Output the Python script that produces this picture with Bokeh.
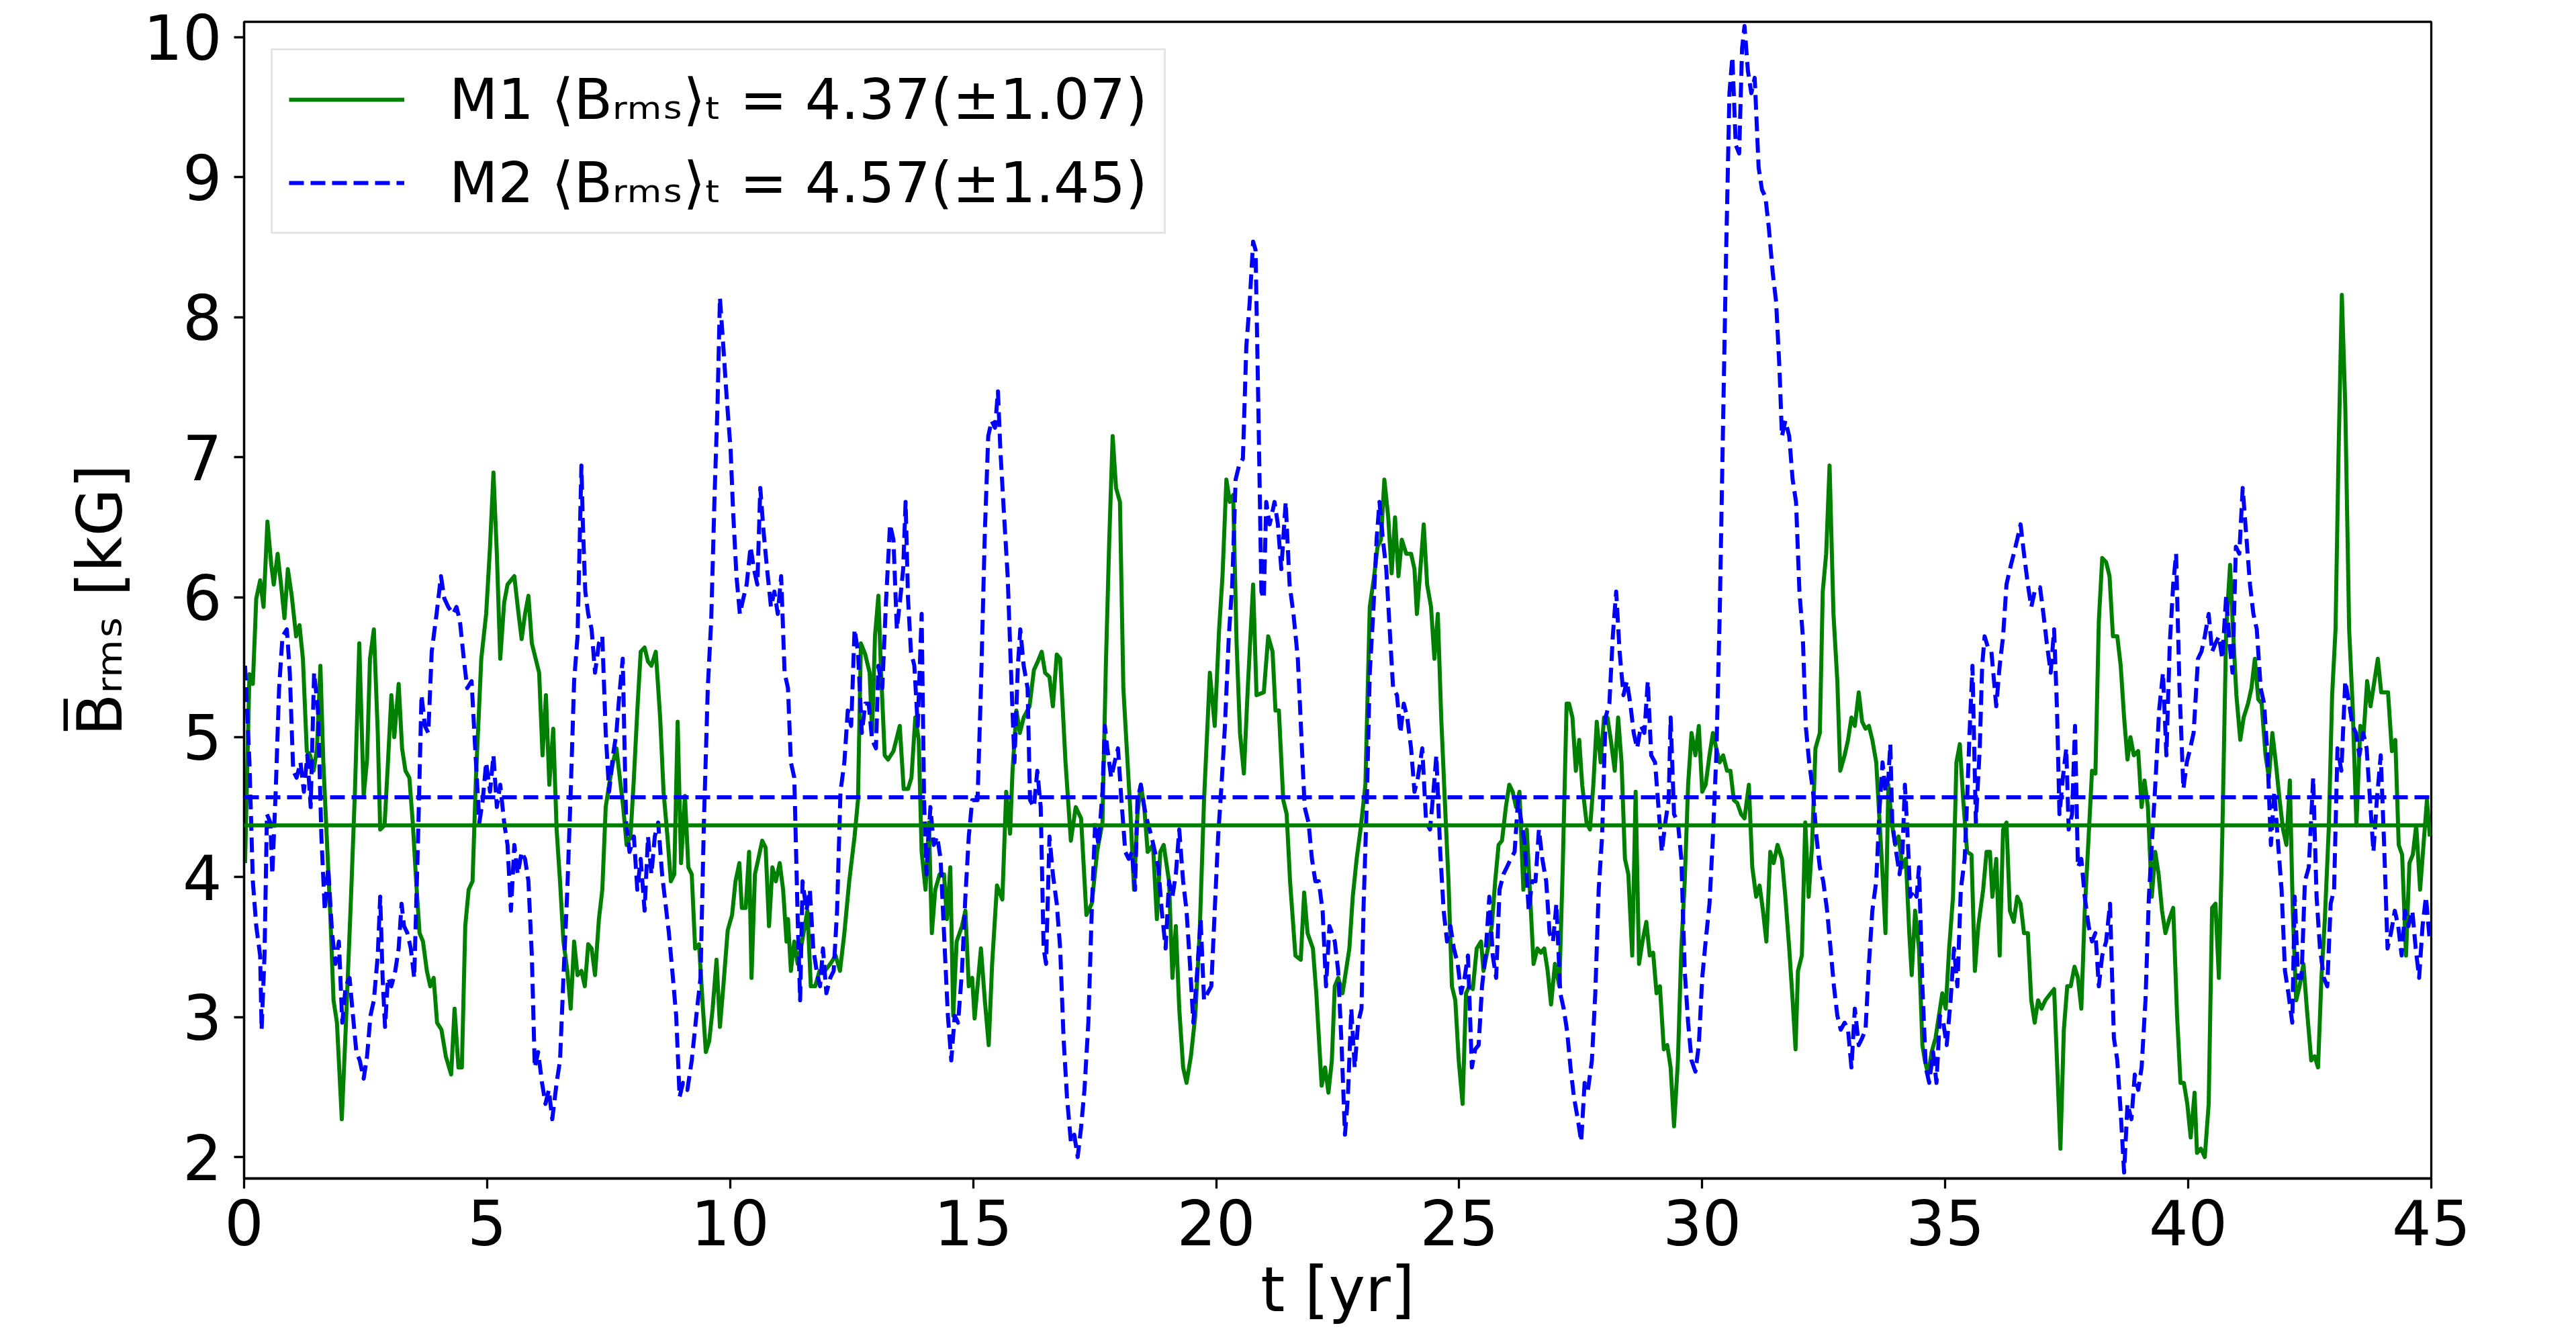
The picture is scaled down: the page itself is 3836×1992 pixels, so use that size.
from bokeh.plotting import figure
from bokeh.models import Range1d, FixedTicker, Span, Legend, LegendItem
from bokeh.embed import file_html
from bokeh.resources import INLINE

# ---------------- data ----------------
X_TICKS = [0, 5, 10, 15, 20, 25, 30, 35, 40, 45]
Y_TICKS = [2, 3, 4, 5, 6, 7, 8, 9, 10]

M1_MEAN, M1_STD = 4.37, 1.07
M2_MEAN, M2_STD = 4.57, 1.45

# model M1 (green, solid): (t [yr], B_rms [kG])
M1_PART1 = [
    (0.02, 4.10), (0.11, 5.45), (0.18, 5.38), (0.25, 5.99), (0.33, 6.12), (0.40, 5.93), (0.48, 6.54),
    (0.56, 6.23), (0.61, 6.09), (0.69, 6.31), (0.76, 6.09), (0.83, 5.85), (0.90, 6.20), (0.98, 6.01),
    (1.07, 5.72), (1.14, 5.80), (1.21, 5.56), (1.29, 4.90), (1.36, 4.87), (1.43, 4.76), (1.50, 4.92),
    (1.57, 5.51), (1.63, 4.82), (1.70, 4.29), (1.77, 3.76), (1.84, 3.12), (1.91, 2.96), (2.01, 2.27),
    (2.09, 2.91), (2.20, 3.86), (2.28, 4.61), (2.37, 5.67), (2.46, 4.58), (2.53, 4.84), (2.59, 5.56),
    (2.67, 5.77), (2.75, 5.03), (2.80, 4.34), (2.89, 4.37), (2.96, 4.82), (3.03, 5.30), (3.09, 5.00),
    (3.18, 5.38), (3.25, 4.92), (3.32, 4.76), (3.40, 4.71), (3.47, 4.39), (3.54, 3.97), (3.61, 3.60),
    (3.68, 3.54), (3.76, 3.33), (3.83, 3.22), (3.90, 3.28), (3.97, 2.96), (4.06, 2.91), (4.15, 2.72),
    (4.26, 2.59), (4.33, 3.06), (4.41, 2.64), (4.48, 2.64), (4.55, 3.65), (4.62, 3.91), (4.70, 3.97),
    (4.77, 4.71), (4.88, 5.56), (4.98, 5.88), (5.06, 6.36), (5.13, 6.89), (5.20, 6.31), (5.27, 5.56),
    (5.35, 5.96), (5.42, 6.09), (5.56, 6.15), (5.63, 5.93), (5.71, 5.70), (5.78, 5.88), (5.85, 6.01),
    (5.92, 5.67), (6.07, 5.46), (6.14, 4.87), (6.21, 5.30), (6.28, 4.66), (6.36, 5.06), (6.43, 4.34),
    (6.50, 3.97), (6.57, 3.54), (6.65, 3.33), (6.72, 3.06), (6.79, 3.54), (6.86, 3.30), (6.94, 3.33),
    (7.01, 3.22), (7.08, 3.52), (7.15, 3.49), (7.22, 3.30), (7.30, 3.70), (7.37, 3.91), (7.44, 4.50),
    (7.51, 4.66), (7.59, 4.82), (7.66, 4.92), (7.73, 4.71), (7.80, 4.50), (7.87, 4.23), (7.95, 4.29),
    (8.02, 4.71), (8.09, 5.19), (8.16, 5.61), (8.24, 5.64), (8.31, 5.54), (8.38, 5.51), (8.47, 5.61),
    (8.56, 5.14), (8.63, 4.61), (8.71, 4.29), (8.78, 3.97), (8.85, 4.02), (8.92, 5.11), (8.99, 4.10),
    (9.07, 4.58), (9.14, 4.07), (9.21, 4.02), (9.28, 3.49), (9.36, 3.52), (9.43, 3.12), (9.50, 2.75),
    (9.57, 2.83), (9.64, 3.06), (9.72, 3.41), (9.79, 2.93), (9.86, 3.22), (9.95, 3.62), (10.04, 3.73),
    (10.11, 3.97), (10.19, 4.10), (10.24, 3.78), (10.32, 3.78), (10.39, 4.18), (10.44, 3.28), (10.51, 4.02),
    (10.58, 4.13), (10.66, 4.26), (10.73, 4.21), (10.80, 3.65), (10.87, 4.07), (10.94, 3.97), (11.02, 4.10),
    (11.09, 3.91), (11.16, 3.54),
]
M1_PART2 = [
    (11.19, 3.70), (11.25, 3.33), (11.32, 3.54), (11.39, 3.38), (11.48, 3.54), (11.59, 3.76), (11.66, 3.22),
    (11.75, 3.22), (11.84, 3.33), (11.95, 3.33), (12.06, 3.38), (12.17, 3.44), (12.26, 3.33), (12.35, 3.60),
    (12.45, 3.97), (12.56, 4.29), (12.63, 4.55), (12.69, 5.67), (12.78, 5.59), (12.87, 5.46), (12.92, 5.03),
    (12.98, 5.72), (13.05, 6.01), (13.10, 5.51), (13.18, 4.87), (13.25, 4.84), (13.36, 4.90), (13.49, 5.08),
    (13.57, 4.63), (13.66, 4.63), (13.73, 4.71), (13.81, 5.14), (13.88, 4.98), (13.94, 4.18), (14.02, 3.91),
    (14.09, 4.39), (14.15, 3.60), (14.22, 3.91), (14.31, 4.02), (14.40, 4.02), (14.46, 3.70), (14.53, 4.07),
    (14.59, 3.01), (14.66, 3.54), (14.77, 3.65), (14.84, 3.76), (14.91, 3.22), (14.98, 3.28), (15.03, 2.99),
    (15.16, 3.49), (15.24, 3.12), (15.32, 2.80), (15.39, 3.38), (15.49, 3.94), (15.60, 3.84), (15.68, 4.61),
    (15.76, 4.31), (15.81, 4.76), (15.89, 5.19), (15.96, 5.03), (16.04, 5.14), (16.16, 5.22), (16.25, 5.48),
    (16.33, 5.54), (16.41, 5.61), (16.48, 5.46), (16.57, 5.43), (16.64, 5.22), (16.72, 5.59), (16.79, 5.56),
    (16.90, 4.82), (17.01, 4.26), (17.11, 4.50), (17.22, 4.42), (17.33, 3.73), (17.44, 3.81), (17.55, 4.18),
    (17.66, 4.39), (17.73, 5.51), (17.80, 6.41), (17.87, 7.15), (17.94, 6.78), (18.02, 6.68), (18.09, 5.35),
    (18.16, 4.92), (18.23, 4.50), (18.31, 3.91), (18.38, 4.45), (18.45, 4.66), (18.52, 4.50), (18.59, 4.18),
    (18.70, 4.23), (18.78, 3.70), (18.85, 4.18), (18.92, 4.23), (19.03, 3.97), (19.10, 3.28), (19.17, 3.65),
    (19.24, 3.06), (19.32, 2.64), (19.39, 2.53), (19.48, 2.72), (19.57, 3.01), (19.66, 3.60), (19.75, 4.55),
    (19.87, 5.46), (19.97, 5.08), (20.06, 5.77), (20.13, 6.15), (20.21, 6.84), (20.28, 6.68), (20.35, 6.73),
    (20.42, 5.67), (20.49, 5.03), (20.57, 4.74), (20.65, 5.35), (20.76, 6.09), (20.83, 5.30), (20.98, 5.32),
    (21.07, 5.72), (21.16, 5.61), (21.22, 5.19), (21.29, 5.19), (21.38, 4.55), (21.45, 4.45), (21.52, 3.97),
    (21.63, 3.44), (21.74, 3.41), (21.81, 3.89), (21.88, 3.60), (21.99, 3.49), (22.06, 3.17), (22.17, 2.51),
    (22.24, 2.64), (22.31, 2.46),
]
M1_PART3 = [
    (22.38, 2.69), (22.44, 3.22), (22.51, 3.28), (22.60, 3.17), (22.67, 3.33), (22.74, 3.49), (22.81, 3.86),
    (22.89, 4.13), (22.97, 4.34), (23.07, 4.66), (23.16, 5.93), (23.25, 6.15), (23.32, 6.36), (23.39, 6.41),
    (23.46, 6.84), (23.54, 6.57), (23.61, 6.17), (23.68, 6.57), (23.75, 6.15), (23.82, 6.41), (23.91, 6.31),
    (24.01, 6.31), (24.08, 6.20), (24.13, 5.88), (24.19, 6.15), (24.27, 6.52), (24.34, 6.09), (24.42, 5.93),
    (24.49, 5.56), (24.56, 5.88), (24.63, 5.14), (24.71, 4.50), (24.78, 3.97), (24.85, 3.22), (24.92, 3.12),
    (24.99, 2.69), (25.07, 2.38), (25.14, 3.17), (25.21, 3.22), (25.28, 3.20), (25.36, 3.49), (25.45, 3.54),
    (25.50, 3.33), (25.59, 3.49), (25.67, 3.65), (25.74, 3.97), (25.81, 4.23), (25.88, 4.26), (25.96, 4.50),
    (26.03, 4.66), (26.10, 4.61), (26.17, 4.50), (26.24, 4.61), (26.32, 3.91), (26.39, 4.34), (26.46, 3.86),
    (26.53, 3.38), (26.61, 3.49), (26.68, 3.46), (26.75, 3.49), (26.82, 3.33), (26.89, 3.09), (26.97, 3.38),
    (27.06, 3.22), (27.13, 4.07), (27.21, 5.24), (27.26, 5.24), (27.33, 5.14), (27.40, 4.76), (27.47, 4.98),
    (27.53, 4.66), (27.62, 4.39), (27.69, 4.34), (27.76, 4.66), (27.83, 5.11), (27.91, 4.82), (27.98, 5.14),
    (28.05, 5.14), (28.12, 4.98), (28.20, 4.76), (28.27, 5.14), (28.34, 4.82), (28.41, 4.13), (28.48, 4.02),
    (28.56, 3.44), (28.63, 4.61), (28.70, 3.38), (28.77, 3.54), (28.85, 3.68), (28.92, 3.44), (28.99, 3.46),
    (29.06, 3.17), (29.13, 3.22), (29.21, 2.77), (29.28, 2.80), (29.35, 2.64), (29.42, 2.22), (29.50, 2.69),
    (29.57, 3.49), (29.64, 3.97), (29.71, 4.66), (29.78, 5.03), (29.86, 4.87), (29.93, 5.08), (30.00, 4.61),
    (30.07, 4.66), (30.15, 4.87), (30.22, 5.03), (30.29, 4.92), (30.36, 4.82), (30.43, 4.87), (30.51, 4.76),
    (30.58, 4.76), (30.65, 4.55), (30.72, 4.53), (30.80, 4.45), (30.87, 4.42), (30.96, 4.66), (31.03, 4.07),
    (31.11, 3.86), (31.18, 3.94), (31.25, 3.76), (31.32, 3.54), (31.40, 4.18), (31.47, 4.10), (31.55, 4.23),
    (31.64, 4.13), (31.71, 3.86), (31.79, 3.49), (31.86, 3.12), (31.92, 2.77), (31.97, 3.33), (32.05, 3.44),
    (32.12, 4.39), (32.19, 3.86), (32.26, 4.23), (32.33, 4.92), (32.42, 5.03), (32.48, 6.04), (32.55, 6.31),
    (32.62, 6.94), (32.70, 5.88), (32.78, 5.40), (32.84, 4.76), (32.93, 4.87), (33.00, 4.98), (33.07, 5.14),
    (33.14, 5.08), (33.22, 5.32), (33.29, 5.11), (33.36, 5.06), (33.43, 5.08), (33.50, 4.98), (33.58, 4.82),
    (33.65, 4.39), (33.71, 4.02),
]
M1_PART4 = [
    (33.77, 3.60), (33.83, 4.66), (33.90, 4.39), (33.97, 4.23), (34.04, 4.29), (34.12, 4.07), (34.19, 4.13),
    (34.26, 3.60), (34.31, 3.30), (34.38, 3.76), (34.46, 3.49), (34.53, 2.80), (34.58, 2.69), (34.65, 2.59),
    (34.72, 2.75), (34.80, 2.85), (34.87, 3.01), (34.94, 3.17), (35.01, 3.06), (35.08, 3.49), (35.16, 3.86),
    (35.23, 4.82), (35.30, 4.95), (35.37, 4.55), (35.45, 4.18), (35.54, 4.16), (35.61, 3.33), (35.68, 3.65),
    (35.78, 3.91), (35.85, 4.18), (35.92, 4.18), (35.97, 3.86), (36.05, 4.13), (36.12, 3.44), (36.19, 4.34),
    (36.26, 4.39), (36.33, 3.76), (36.41, 3.68), (36.48, 3.86), (36.55, 3.81), (36.62, 3.60), (36.70, 3.60),
    (36.77, 3.12), (36.84, 2.96), (36.91, 3.12), (36.98, 3.06), (37.06, 3.12), (37.17, 3.17), (37.24, 3.20),
    (37.31, 2.59), (37.37, 2.06), (37.44, 2.91), (37.51, 3.22), (37.58, 3.22), (37.66, 3.36), (37.73, 3.28),
    (37.80, 3.06), (37.87, 3.76), (37.95, 4.29), (38.02, 4.76), (38.09, 4.74), (38.16, 5.83), (38.23, 6.28),
    (38.31, 6.25), (38.38, 6.15), (38.45, 5.72), (38.54, 5.72), (38.61, 5.51), (38.68, 5.14), (38.75, 4.84),
    (38.81, 5.00), (38.88, 4.87), (38.97, 4.90), (39.04, 4.50), (39.10, 4.69), (39.17, 4.50), (39.25, 3.86),
    (39.32, 4.18), (39.39, 4.02), (39.46, 3.76), (39.53, 3.60), (39.61, 3.70), (39.69, 3.78), (39.77, 3.01),
    (39.84, 2.53), (39.91, 2.53), (39.98, 2.38), (40.05, 2.14), (40.13, 2.46), (40.18, 2.03), (40.26, 2.06),
    (40.34, 2.00), (40.42, 2.38), (40.49, 3.78), (40.56, 3.81), (40.63, 3.28), (40.70, 4.29), (40.78, 5.77),
    (40.86, 6.23), (40.92, 5.77), (40.99, 5.30), (41.07, 4.98), (41.14, 5.14), (41.23, 5.24), (41.30, 5.35),
    (41.37, 5.56), (41.44, 5.27), (41.51, 5.24), (41.59, 4.87), (41.66, 4.71), (41.73, 5.03), (41.80, 4.82),
    (41.88, 4.55), (41.95, 4.34), (42.02, 4.23), (42.09, 4.69), (42.15, 3.76), (42.22, 3.12), (42.29, 3.22),
    (42.37, 3.38), (42.44, 3.06), (42.53, 2.69), (42.60, 2.72), (42.67, 2.64), (42.74, 3.28), (42.81, 3.70),
    (42.89, 4.34), (42.96, 5.30), (43.03, 5.77), (43.09, 6.99), (43.16, 8.16), (43.23, 7.37), (43.31, 5.77),
    (43.38, 5.24), (43.46, 4.37), (43.54, 5.08), (43.61, 5.03), (43.68, 5.40), (43.75, 5.22), (43.83, 5.40),
    (43.90, 5.56), (43.97, 5.32), (44.04, 5.32), (44.11, 5.32), (44.19, 4.90), (44.26, 4.98), (44.33, 4.23),
    (44.40, 4.16), (44.48, 3.44), (44.55, 4.10), (44.62, 4.16), (44.69, 4.37), (44.77, 3.91), (44.84, 4.23),
    (44.91, 4.55), (44.97, 4.29),
]

# model M2 (blue, dashed): (t [yr], B_rms [kG])
M2_PART1 = [
    (0.02, 5.51), (0.11, 4.82), (0.18, 3.97), (0.25, 3.65), (0.33, 3.44), (0.36, 2.91), (0.42, 3.44),
    (0.47, 4.45), (0.54, 4.39), (0.58, 4.02), (0.65, 4.61), (0.72, 5.35), (0.79, 5.72), (0.88, 5.77),
    (0.94, 5.46), (1.01, 4.76), (1.08, 4.71), (1.16, 4.82), (1.23, 4.61), (1.30, 4.87), (1.37, 4.50),
    (1.44, 5.46), (1.52, 5.19), (1.59, 4.29), (1.66, 3.76), (1.73, 4.07), (1.81, 3.60), (1.88, 3.38),
    (1.95, 3.54), (2.02, 2.96), (2.09, 3.22), (2.17, 3.28), (2.24, 3.01), (2.31, 2.75), (2.38, 2.69),
    (2.46, 2.56), (2.53, 2.72), (2.60, 3.01), (2.67, 3.12), (2.75, 3.44), (2.80, 3.86), (2.85, 3.28),
    (2.90, 2.93), (2.96, 3.28), (3.03, 3.22), (3.11, 3.33), (3.18, 3.49), (3.24, 3.81), (3.29, 3.65),
    (3.36, 3.60), (3.43, 3.49), (3.50, 3.28), (3.58, 4.29), (3.65, 5.30), (3.72, 5.08), (3.79, 5.03),
    (3.86, 5.61), (3.96, 5.88), (4.05, 6.15), (4.12, 5.99), (4.20, 5.93), (4.30, 5.88), (4.37, 5.93),
    (4.44, 5.83), (4.52, 5.56), (4.59, 5.35), (4.68, 5.40), (4.77, 4.82), (4.84, 4.39), (4.91, 4.55),
    (4.98, 4.82), (5.06, 4.61), (5.13, 4.87), (5.20, 4.50), (5.27, 4.66), (5.35, 4.39), (5.42, 4.23),
    (5.49, 3.76), (5.56, 4.23), (5.63, 4.02), (5.71, 4.18), (5.78, 4.13), (5.85, 3.97), (5.92, 3.44),
    (5.98, 2.64), (6.05, 2.75), (6.13, 2.53), (6.20, 2.38), (6.27, 2.48), (6.34, 2.27), (6.43, 2.53),
    (6.50, 2.69), (6.57, 3.28), (6.65, 3.91), (6.72, 4.61), (6.79, 5.40), (6.86, 5.72), (6.94, 6.94),
    (6.97, 6.52), (7.02, 6.04), (7.08, 5.88), (7.15, 5.77), (7.22, 5.46), (7.30, 5.67), (7.37, 5.72),
    (7.44, 5.03), (7.51, 4.61), (7.59, 4.87), (7.66, 5.03), (7.72, 5.30), (7.79, 5.56), (7.86, 4.39),
    (7.93, 4.18), (8.02, 4.29), (8.09, 3.91), (8.16, 4.13), (8.24, 3.76), (8.31, 4.29), (8.38, 4.02),
    (8.45, 4.29), (8.52, 4.39), (8.60, 4.02), (8.67, 3.81), (8.74, 3.60), (8.81, 3.33), (8.89, 3.01),
    (8.96, 2.43), (9.03, 2.53), (9.12, 2.48), (9.21, 2.69), (9.32, 3.06), (9.39, 3.28), (9.46, 4.39),
    (9.54, 5.35), (9.61, 5.83), (9.68, 6.73), (9.74, 7.37), (9.79, 8.14), (9.86, 7.79), (9.93, 7.42),
    (10.01, 7.05), (10.06, 6.62), (10.13, 6.15), (10.20, 5.88), (10.27, 5.99), (10.34, 6.09), (10.42, 6.36),
    (10.49, 6.20), (10.56, 6.09), (10.62, 6.78), (10.69, 6.46), (10.76, 6.20), (10.84, 5.93), (10.91, 6.04),
    (10.98, 5.88), (11.05, 6.15), (11.12, 5.46),
]
M2_PART2 = [
    (11.19, 5.35), (11.25, 4.82), (11.32, 4.71), (11.39, 3.70), (11.44, 3.12), (11.49, 3.97), (11.57, 3.76),
    (11.64, 3.91), (11.71, 3.49), (11.78, 3.33), (11.85, 3.22), (11.91, 3.49), (11.98, 3.17), (12.06, 3.28),
    (12.13, 3.33), (12.20, 3.76), (12.27, 4.61), (12.35, 4.82), (12.42, 5.19), (12.49, 5.08), (12.56, 5.77),
    (12.63, 5.61), (12.71, 5.03), (12.78, 5.24), (12.85, 5.24), (12.92, 4.98), (13.00, 4.92), (13.05, 5.51),
    (13.13, 5.35), (13.21, 5.99), (13.29, 6.52), (13.36, 6.41), (13.43, 5.77), (13.50, 5.99), (13.56, 6.20),
    (13.61, 6.68), (13.66, 5.99), (13.72, 5.61), (13.79, 5.51), (13.86, 5.08), (13.94, 5.88), (13.99, 4.55),
    (14.04, 4.02), (14.12, 4.50), (14.19, 4.23), (14.26, 4.29), (14.33, 4.13), (14.40, 3.60), (14.48, 3.01),
    (14.55, 2.69), (14.62, 3.01), (14.69, 2.96), (14.77, 3.33), (14.84, 3.86), (14.91, 4.29), (14.98, 4.55),
    (15.09, 4.55), (15.16, 5.35), (15.24, 6.46), (15.31, 7.15), (15.38, 7.26), (15.45, 7.21), (15.51, 7.47),
    (15.56, 7.05), (15.63, 6.62), (15.71, 6.15), (15.78, 5.46), (15.85, 4.82), (15.92, 5.51), (15.97, 5.77),
    (16.04, 5.51), (16.12, 5.35), (16.17, 4.55), (16.25, 4.50), (16.32, 4.76), (16.39, 4.50), (16.45, 3.49),
    (16.50, 3.38), (16.57, 4.29), (16.64, 4.02), (16.72, 3.81), (16.79, 3.49), (16.86, 2.85), (16.93, 2.43),
    (17.01, 2.11), (17.08, 2.16), (17.15, 2.00), (17.22, 2.21), (17.29, 2.48), (17.37, 2.96), (17.44, 3.76),
    (17.51, 4.39), (17.58, 4.23), (17.66, 4.61), (17.71, 5.08), (17.76, 4.92), (17.84, 4.71), (17.91, 4.82),
    (17.98, 4.92), (18.05, 4.55), (18.13, 4.18), (18.20, 4.13), (18.27, 4.18), (18.33, 3.91), (18.38, 4.55),
    (18.45, 4.66), (18.52, 4.50), (18.59, 4.39), (18.67, 4.29), (18.74, 4.18), (18.81, 4.07), (18.88, 3.76),
    (18.96, 3.49), (19.03, 3.97), (19.10, 3.86), (19.17, 4.02), (19.24, 4.34), (19.32, 3.97), (19.39, 3.76),
    (19.46, 3.38), (19.53, 2.96), (19.61, 3.33), (19.68, 3.70), (19.75, 3.12), (19.82, 3.17), (19.90, 3.22),
    (19.97, 3.76), (20.04, 4.29), (20.11, 4.66), (20.18, 5.08), (20.26, 5.72), (20.33, 6.09), (20.40, 6.84),
    (20.47, 6.94), (20.55, 6.99), (20.62, 7.79), (20.69, 8.11), (20.76, 8.54), (20.81, 8.48), (20.87, 7.31),
    (20.93, 6.04), (20.98, 5.99), (21.03, 6.68), (21.10, 6.52), (21.20, 6.68), (21.27, 6.52), (21.34, 6.20),
    (21.43, 6.68), (21.51, 6.09), (21.59, 5.88), (21.68, 5.56), (21.75, 5.03), (21.82, 4.50), (21.90, 4.39),
    (21.97, 4.13), (22.04, 3.97), (22.11, 3.97), (22.19, 3.76), (22.26, 3.22), (22.33, 3.65),
]
M2_PART3 = [
    (22.38, 3.60), (22.44, 3.54), (22.51, 3.33), (22.58, 2.80), (22.65, 2.16), (22.71, 2.43), (22.78, 3.06),
    (22.85, 2.64), (22.92, 2.96), (22.99, 3.06), (23.03, 3.76), (23.10, 4.55), (23.16, 5.46), (23.23, 5.88),
    (23.30, 6.41), (23.36, 6.68), (23.43, 6.41), (23.50, 6.20), (23.57, 5.77), (23.64, 5.35), (23.72, 5.30),
    (23.79, 5.03), (23.86, 5.24), (23.93, 5.14), (24.01, 4.92), (24.08, 4.61), (24.15, 4.71), (24.24, 4.92),
    (24.32, 4.39), (24.40, 4.34), (24.47, 4.61), (24.53, 4.87), (24.61, 4.18), (24.68, 3.76), (24.75, 3.54),
    (24.82, 3.65), (24.89, 3.49), (24.97, 3.38), (25.04, 3.17), (25.11, 3.28), (25.18, 3.44), (25.26, 2.64),
    (25.33, 2.77), (25.40, 2.80), (25.47, 3.22), (25.54, 3.44), (25.62, 3.86), (25.69, 3.44), (25.76, 3.28),
    (25.83, 3.91), (25.91, 4.02), (25.98, 4.07), (26.06, 4.13), (26.14, 4.18), (26.21, 4.55), (26.28, 4.39),
    (26.35, 4.23), (26.43, 3.76), (26.50, 3.97), (26.57, 3.97), (26.64, 4.34), (26.71, 4.13), (26.79, 3.97),
    (26.86, 3.60), (26.93, 3.54), (27.00, 3.81), (27.08, 3.17), (27.15, 3.06), (27.22, 2.90), (27.29, 2.64),
    (27.36, 2.43), (27.44, 2.27), (27.51, 2.11), (27.58, 2.53), (27.65, 2.48), (27.73, 2.69), (27.80, 3.17),
    (27.87, 3.91), (27.94, 4.29), (28.01, 5.14), (28.09, 5.24), (28.16, 5.72), (28.23, 6.04), (28.30, 5.61),
    (28.38, 5.30), (28.45, 5.40), (28.52, 5.24), (28.59, 5.03), (28.66, 4.92), (28.74, 5.08), (28.81, 5.03),
    (28.88, 5.40), (28.95, 4.87), (29.03, 4.82), (29.10, 4.50), (29.17, 4.18), (29.24, 4.39), (29.31, 4.55),
    (29.35, 5.14), (29.42, 4.45), (29.50, 4.39), (29.57, 4.13), (29.64, 3.33), (29.71, 2.96), (29.78, 2.69),
    (29.86, 2.61), (29.93, 2.80), (30.00, 3.28), (30.07, 3.54), (30.15, 3.81), (30.22, 4.29), (30.29, 4.87),
    (30.36, 5.88), (30.43, 7.26), (30.49, 8.43), (30.56, 9.60), (30.62, 9.86), (30.69, 9.23), (30.76, 9.17),
    (30.82, 9.92), (30.87, 10.08), (30.94, 9.76), (31.01, 9.60), (31.08, 9.71), (31.16, 9.07), (31.23, 8.91),
    (31.30, 8.86), (31.37, 8.64), (31.45, 8.32), (31.52, 8.11), (31.59, 7.63), (31.64, 7.15), (31.71, 7.26),
    (31.79, 7.15), (31.86, 6.84), (31.93, 6.68), (32.00, 6.04), (32.07, 5.72), (32.13, 5.08), (32.20, 4.82),
    (32.28, 4.61), (32.35, 4.29), (32.42, 4.07), (32.49, 3.97), (32.57, 3.76), (32.64, 3.49), (32.71, 3.22),
    (32.78, 3.01), (32.85, 2.91), (32.93, 2.96), (33.00, 2.91), (33.07, 2.64), (33.14, 3.06), (33.22, 2.80),
    (33.29, 2.85), (33.36, 2.91), (33.43, 3.38), (33.50, 3.76), (33.58, 3.97), (33.65, 4.50), (33.71, 4.82),
]
M2_PART4 = [
    (33.77, 4.61), (33.83, 4.71), (33.87, 4.95), (33.91, 4.39), (33.99, 4.18), (34.06, 4.02), (34.12, 4.18),
    (34.17, 4.66), (34.22, 4.34), (34.28, 3.86), (34.35, 3.91), (34.41, 3.86), (34.46, 4.07), (34.53, 3.22),
    (34.60, 2.64), (34.67, 2.53), (34.75, 2.75), (34.82, 2.53), (34.89, 3.01), (34.96, 2.96), (35.03, 2.80),
    (35.11, 3.12), (35.18, 3.49), (35.25, 3.22), (35.32, 3.91), (35.40, 4.13), (35.45, 4.55), (35.50, 5.03),
    (35.56, 5.51), (35.63, 4.39), (35.71, 4.92), (35.76, 5.51), (35.81, 5.72), (35.88, 5.64), (35.95, 5.61),
    (36.05, 5.22), (36.12, 5.51), (36.19, 5.72), (36.26, 6.09), (36.33, 6.20), (36.41, 6.31), (36.48, 6.41),
    (36.55, 6.52), (36.62, 6.31), (36.70, 6.09), (36.77, 5.93), (36.84, 6.04), (36.95, 6.07), (37.02, 5.88),
    (37.09, 5.67), (37.17, 5.46), (37.24, 5.77), (37.30, 5.19), (37.35, 4.45), (37.42, 4.71), (37.49, 4.92),
    (37.54, 4.34), (37.61, 4.45), (37.67, 5.08), (37.73, 4.07), (37.80, 4.13), (37.87, 3.86), (37.95, 3.65),
    (38.02, 3.54), (38.09, 3.60), (38.16, 3.22), (38.23, 3.44), (38.31, 3.54), (38.39, 3.81), (38.47, 2.85),
    (38.54, 2.69), (38.61, 2.32), (38.68, 1.89), (38.75, 2.38), (38.83, 2.27), (38.90, 2.59), (38.97, 2.48),
    (39.04, 2.64), (39.12, 3.12), (39.19, 3.86), (39.26, 4.29), (39.33, 4.71), (39.40, 5.19), (39.48, 5.46),
    (39.55, 4.87), (39.62, 5.67), (39.69, 6.09), (39.75, 6.31), (39.82, 5.35), (39.90, 4.63), (39.97, 4.82),
    (40.04, 4.92), (40.11, 5.03), (40.20, 5.56), (40.27, 5.61), (40.34, 5.72), (40.42, 5.88), (40.49, 5.61),
    (40.56, 5.67), (40.63, 5.72), (40.70, 5.56), (40.78, 6.01), (40.85, 5.67), (40.91, 5.46), (40.98, 6.36),
    (41.05, 6.31), (41.12, 6.78), (41.20, 6.41), (41.27, 6.09), (41.34, 5.88), (41.41, 5.77), (41.49, 5.35),
    (41.56, 5.24), (41.63, 4.87), (41.70, 4.23), (41.77, 4.61), (41.85, 4.23), (41.92, 3.91), (41.99, 3.33),
    (42.06, 3.17), (42.14, 2.96), (42.19, 3.86), (42.26, 3.28), (42.33, 3.28), (42.40, 3.97), (42.48, 4.07),
    (42.57, 4.71), (42.64, 3.86), (42.71, 3.49), (42.79, 3.28), (42.86, 3.22), (42.93, 3.81), (43.00, 3.91),
    (43.07, 4.92), (43.15, 4.76), (43.23, 5.40), (43.31, 5.24), (43.38, 5.08), (43.45, 5.03), (43.52, 4.87),
    (43.60, 5.03), (43.67, 4.92), (43.74, 4.55), (43.81, 4.18), (43.88, 4.55), (43.96, 4.87), (44.03, 4.23),
    (44.10, 3.49), (44.17, 3.60), (44.25, 3.76), (44.32, 3.65), (44.39, 3.44), (44.46, 3.76), (44.53, 3.65),
    (44.61, 3.76), (44.68, 3.49), (44.75, 3.28), (44.82, 3.65), (44.89, 3.86), (44.97, 3.54),
]

X_LABEL = "t [yr]"
Y_LABEL = "B\u0305\u1d63\u2098\u209b [kG]"
LABEL_M1 = f"M1 \u27e8B\u1d63\u2098\u209b\u27e9\u209c = {M1_MEAN:.2f}(\u00b1{M1_STD:.2f})"
LABEL_M2 = f"M2 \u27e8B\u1d63\u2098\u209b\u27e9\u209c = {M2_MEAN:.2f}(\u00b1{M2_STD:.2f})"

# ---------------- build figure ----------------
m1 = M1_PART1 + M1_PART2 + M1_PART3 + M1_PART4
m2 = M2_PART1 + M2_PART2 + M2_PART3 + M2_PART4
m1_t = [a for a, _ in m1]
m1_b = [b for _, b in m1]
m2_t = [a for a, _ in m2]
m2_b = [b for _, b in m2]

FONT = "DejaVu Sans"
LW = 6

p = figure(width=3820, height=1976, output_backend="svg", toolbar_location=None,
           x_range=Range1d(0, 45), y_range=Range1d(1.847, 10.11),
           min_border_left=363, min_border_right=200, min_border_top=32, min_border_bottom=219)
p.background_fill_color = "white"
p.border_fill_color = "white"
p.xgrid.visible = False
p.ygrid.visible = False
p.outline_line_color = "black"
p.outline_line_width = 3.3
p.outline_line_alpha = 1.0

r1 = p.line(m1_t, m1_b, line_color="green", line_width=LW, line_join="round")
r2 = p.line(m2_t, m2_b, line_color="blue", line_width=LW, line_dash="22 10", line_join="round")

p.add_layout(Span(location=M1_MEAN, dimension="width", line_color="green", line_width=LW))
p.add_layout(Span(location=M2_MEAN, dimension="width", line_color="blue", line_width=LW,
                  line_dash="22 10"))

p.xaxis.ticker = FixedTicker(ticks=X_TICKS)
p.yaxis.ticker = FixedTicker(ticks=Y_TICKS)
for ax in (p.xaxis[0], p.yaxis[0]):
    ax.axis_line_width = 3.3
    ax.axis_line_color = "black"
    ax.major_tick_line_width = 3.3
    ax.major_tick_line_color = "black"
    ax.major_tick_in = 0
    ax.major_tick_out = 15
    ax.minor_tick_line_color = None
    ax.major_label_text_font = FONT
    ax.major_label_text_font_size = "92px"
    ax.major_label_text_color = "black"
    ax.axis_label_text_font = FONT
    ax.axis_label_text_font_size = "92px"
    ax.axis_label_text_font_style = "normal"
    ax.axis_label_text_color = "black"

p.xaxis.axis_label = X_LABEL
p.yaxis.axis_label = Y_LABEL
p.xaxis.major_label_standoff = 16
p.xaxis.axis_label_standoff = 10
p.yaxis.major_label_standoff = 18
p.yaxis.axis_label_standoff = 7

legend = Legend(items=[LegendItem(label=LABEL_M1, renderers=[r1]),
                       LegendItem(label=LABEL_M2, renderers=[r2])],
                location="top_left", margin=40, padding=24, spacing=26,
                glyph_width=172, glyph_height=90, label_standoff=67,
                label_text_font=FONT, label_text_font_size="84px", label_text_color="black",
                border_line_color="#cccccc", border_line_width=3.3,
                background_fill_color="white", background_fill_alpha=0.8)
p.add_layout(legend)

open("out.html", "w").write(file_html(p, INLINE))
